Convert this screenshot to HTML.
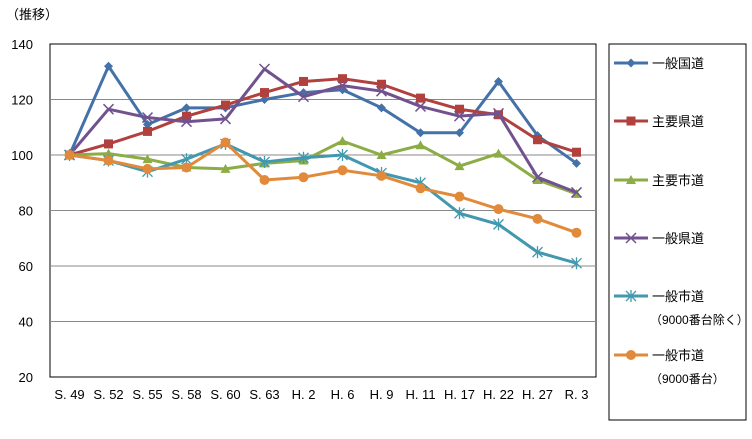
<!DOCTYPE html>
<html><head><meta charset="utf-8"><style>
body{margin:0;background:#fff;font-family:"Liberation Sans","Noto Sans CJK JP",sans-serif;}
svg text{font-family:"Liberation Sans","Noto Sans CJK JP",sans-serif;font-size:13px;fill:#000;}
</style></head><body>
<svg id="c" width="752" height="434" xmlns="http://www.w3.org/2000/svg">
<text x="6" y="19">（推移）</text>
<rect x="50" y="44" width="546" height="333" fill="none" stroke="#000"/>
<rect x="609" y="44" width="137" height="376" fill="none" stroke="#000"/>
<g id="grid"></g><g id="series"></g><g id="legendg"></g>
</svg>
<script>
const categories=["S. 49","S. 52","S. 55","S. 58","S. 60","S. 63","H. 2","H. 6","H. 9","H. 11","H. 17","H. 22","H. 27","R. 3"];
const yTicks=[20,40,60,80,100,120,140];
const seriesNames=[["一般国道"],["主要県道"],["主要市道"],["一般県道"],["一般市道","（9000番台除く）"],["一般市道","（9000番台）"]];
const kokudo=[100,132,111,117,117,120,122.5,123.5,117,108,108,126.5,107,97];
const shuyoKendo=[100,104,108.5,114,118,122.5,126.5,127.5,125.5,120.5,116.5,114.5,105.5,101];
const shuyoShido=[100,100.5,98.5,95.5,95,97,98,105,100,103.5,96,100.5,91,86];
const ippanKendo=[100,116.5,113.5,112,113,131,121,125,123,117.5,114,115,92,86.5];
const shidoExcl=[100,98,94,98.5,104,97.5,99,100,93.5,90,79,75,65,61];
const shido9000=[100,98,95,95.5,104.5,91,92,94.5,92.5,88,85,80.5,77,72];
const seriesData=[kokudo,shuyoKendo,shuyoShido,ippanKendo,shidoExcl,shido9000];
const colors=["#4472a8","#b0413e","#8cac46","#71528f","#4298ae","#e18a3b"];
const markers=["diamond","square","triangle","x","star","circle"];
const NS="http://www.w3.org/2000/svg";
const X=i=>50+39*(i+0.5);
const Y=v=>377-(v-20)*(333/120);
function mk(tag,attrs,parent){const e=document.createElementNS(NS,tag);for(const k in attrs)e.setAttribute(k,attrs[k]);parent.appendChild(e);return e;}
const grid=document.getElementById('grid');
yTicks.forEach(t=>{
  if(t>20&&t<140){const l=mk('line',{x1:50,x2:596,y1:Y(t),y2:Y(t),stroke:'#888'},grid);
  
  }
  const tx=mk('text',{x:33,y:Y(t)+5,'text-anchor':'end'},grid);tx.textContent=t;
  
  
});
categories.forEach((c,i)=>{
  const tx=mk('text',{x:X(i),y:399,'text-anchor':'middle'},grid);tx.textContent=c;
  
  
});
function marker(type,x,y,col,g){
  let e;
  if(type==='diamond')e=mk('polygon',{points:`${x},${y-4.5} ${x+4.5},${y} ${x},${y+4.5} ${x-4.5},${y}`,fill:col},g);
  else if(type==='square')e=mk('rect',{x:x-4.5,y:y-4.5,width:9,height:9,fill:col},g);
  else if(type==='triangle')e=mk('polygon',{points:`${x},${y-5} ${x+5},${y+4} ${x-5},${y+4}`,fill:col},g);
  else if(type==='circle')e=mk('circle',{cx:x,cy:y,r:5,fill:col},g);
  else if(type==='x')e=mk('path',{d:`M${x-5} ${y-5}L${x+5} ${y+5}M${x+5} ${y-5}L${x-5} ${y+5}`,stroke:col,'stroke-width':1.5},g);
  else e=mk('path',{d:`M${x-5} ${y-5}L${x+5} ${y+5}M${x+5} ${y-5}L${x-5} ${y+5}M${x} ${y-6}L${x} ${y+6}`,stroke:col,'stroke-width':1.3},g);
  
  
}
const sg=document.getElementById('series'),lg=document.getElementById('legendg');
const legY=[63,121,180,238,296,355];
seriesData.forEach((d,s)=>{
  const g=mk('g',{},sg);
  
  
  const pl=mk('polyline',{points:d.map((v,i)=>X(i)+','+Y(v)).join(' '),fill:'none',stroke:colors[s],'stroke-width':3,'stroke-linejoin':'round'},g);
  
  
  d.forEach((v,i)=>marker(markers[s],X(i),Y(v),colors[s],g));
  const le=mk('g',{},lg);
  
  
  mk('line',{x1:614,x2:648,y1:legY[s],y2:legY[s],stroke:colors[s],'stroke-width':3},le);
  marker(markers[s],631,legY[s],colors[s],le);
  seriesNames[s].forEach((n,k)=>{const t=mk('text',{x:k?650:652,y:legY[s]+5+k*23},le);t.textContent=n;if(k)t.setAttribute('style','font-size:12px');});
});
</script>
</body></html>
